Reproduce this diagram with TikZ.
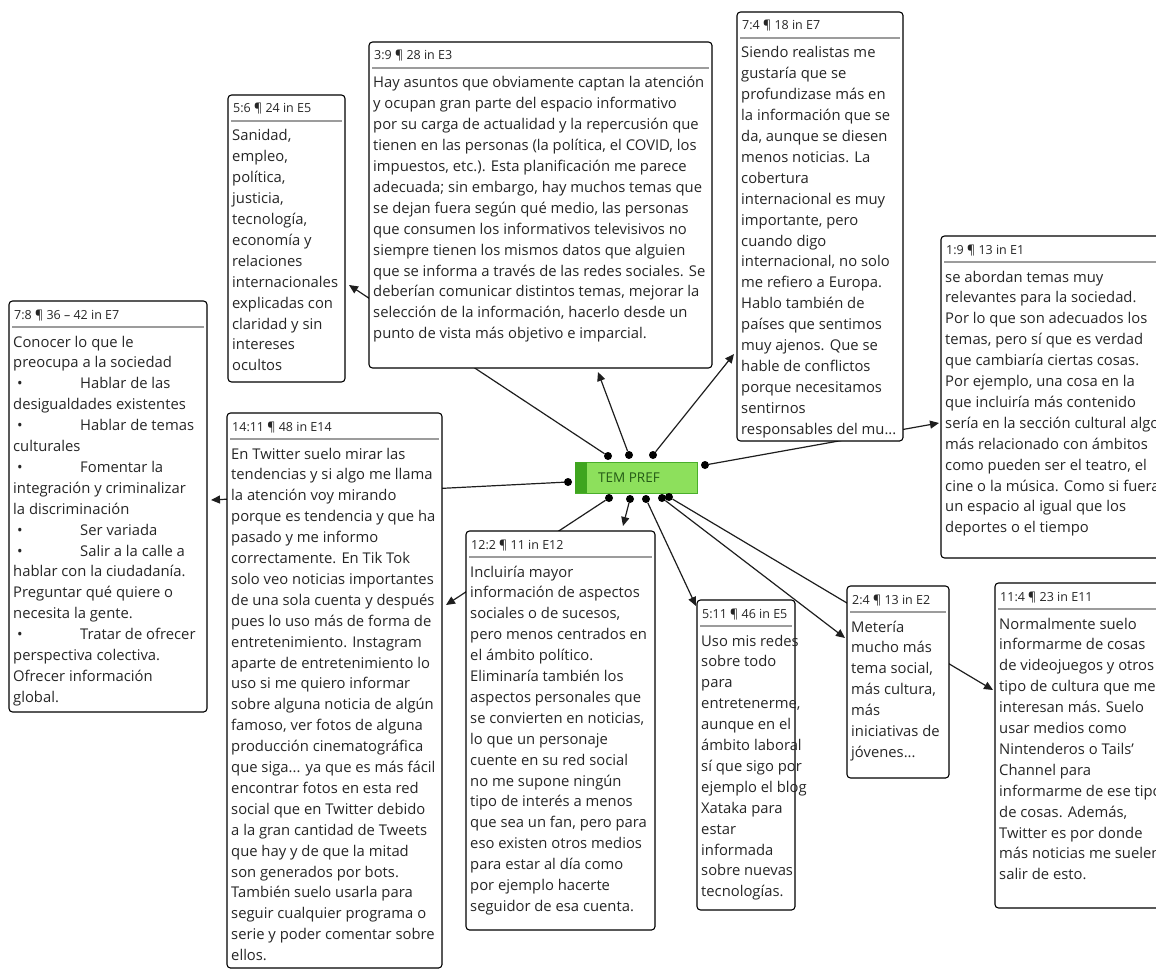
\documentclass[tikz,border=0pt]{standalone}
\usepackage{fontspec}
\setmainfont{Open Sans}
\usetikzlibrary{arrows.meta,calc}
\pgfdeclarelayer{bg}
\pgfsetlayers{bg,main}

\definecolor{ink}{HTML}{262626}
\definecolor{rulegray}{HTML}{9C9C9C}
\definecolor{linkc}{HTML}{1E1E1E}
\definecolor{temfill}{HTML}{8DE05C}
\definecolor{temdark}{HTML}{3FA51F}
\definecolor{temborder}{HTML}{4AAE2B}
\definecolor{temtext}{HTML}{245A16}

\tikzset{
  qframe/.style={draw=black, line width=1.1pt, rounded corners=3.5pt, fill=white, inner sep=0pt, outer sep=0pt},
  qhead/.style={inner sep=0pt, font=\fontsize{12.5}{14}\selectfont, text=ink},
  qbody/.style={inner sep=0pt, font=\fontsize{14.8}{20.9}\selectfont, text=ink},
  qrule/.style={draw=rulegray, line width=2pt},
  link/.style={draw=linkc, line width=1.2pt},
  tipped/.style={-{Triangle[length=9pt,width=8pt]}},
  dotnode/.style={circle, fill=black, inner sep=0pt, minimum size=8pt},
  codebox/.style={draw=temborder, fill=temfill, line width=0.8pt, inner sep=0pt, minimum width=122pt, minimum height=31pt},
}

% quotation box: name, left, top, right, bottom, header, body lines
\newcommand\quotebox[7]{%
  \node[qframe, anchor=north west, minimum width={(#4)-(#2)}, minimum height={(#5)-(#3)}] (#1) at (#2,#3) {};
  \node[qhead, anchor=base west] (#1-head) at ($(#1.north west)+(5,18)$) {#6};
  \draw[qrule] ($(#1.north west)+(3,26)$) -- ($(#1.north east)+(-3,26)$);
  \node[qbody, anchor=base west] (#1-text) at ($(#1.north west)+(4,46)$) {\parbox[t]{400pt}{\raggedright #7}};
}
\newcommand\bul[1]{\makebox[67pt][l]{\hspace{4pt}•}#1}

\begin{document}
\begin{tikzpicture}[x=1pt,y=-1pt]
\useasboundingbox (0,0) rectangle (1156,971);

% central code
\node[codebox] (tem) at (636.5,477.5) {};
\fill[temdark] (tem.north west) rectangle ($(tem.south west)+(12,0)$);
\node[inner sep=0pt, text=temtext, font=\fontsize{13.5}{15}\selectfont] (tem-label) at (629,477.5) {TEM PREF};

% link start points around the code
\node[dotnode] (dA) at (608,456) {};
\node[dotnode] (dB) at (629,455) {};
\node[dotnode] (dC) at (653,455) {};
\node[dotnode] (dR) at (705,465) {};
\node[dotnode] (dL) at (568,482) {};
\node[dotnode] (dD) at (609,498) {};
\node[dotnode] (dE) at (630,499) {};
\node[dotnode] (dF) at (646,499) {};
\node[dotnode] (dG) at (662,498) {};
\node[dotnode] (dH) at (669,497) {};

% quotations
\quotebox{q56}{228}{95}{345}{382}{5:6 ¶ 24 in E5}{%
Sanidad,\\ empleo,\\ política,\\ justicia,\\ tecnología,\\ economía y\\ relaciones\\ internacionales\\ explicadas con\\ claridad y sin\\ intereses\\ ocultos}

\quotebox{q39}{369}{42}{712}{368}{3:9 ¶ 28 in E3}{%
Hay asuntos que obviamente captan la atención\\
y ocupan gran parte del espacio informativo\\
por su carga de actualidad y la repercusión que\\
tienen en las personas (la política, el COVID, los\\
impuestos, etc.). Esta planificación me parece\\
adecuada; sin embargo, hay muchos temas que\\
se dejan fuera según qué medio, las personas\\
que consumen los informativos televisivos no\\
siempre tienen los mismos datos que alguien\\
que se informa a través de las redes sociales. Se\\
deberían comunicar distintos temas, mejorar la\\
selección de la información, hacerlo desde un\\
punto de vista más objetivo e imparcial.}

\quotebox{q74}{737}{12}{903}{441}{7:4 ¶ 18 in E7}{%
Siendo realistas me\\ gustaría que se\\ profundizase más en\\ la información que se\\ da, aunque se diesen\\ menos noticias. La\\ cobertura\\ internacional es muy\\ importante, pero\\ cuando digo\\ internacional, no solo\\ me refiero a Europa.\\ Hablo también de\\ países que sentimos\\ muy ajenos. Que se\\ hable de conflictos\\ porque necesitamos\\ sentirnos\\ responsables del mu...}

\quotebox{q19}{941}{236}{1175}{558}{1:9 ¶ 13 in E1}{%
se abordan temas muy\\ relevantes para la sociedad.\\ Por lo que son adecuados los\\ temas, pero sí que es verdad\\ que cambiaría ciertas cosas.\\ Por ejemplo, una cosa en la\\ que incluiría más contenido\\ sería en la sección cultural algo\\ más relacionado con ámbitos\\ como pueden ser el teatro, el\\ cine o la música. Como si fuera\\ un espacio al igual que los\\ deportes o el tiempo}

\quotebox{q78}{9}{301}{207}{712}{7:8 ¶ 36 – 42 in E7}{%
Conocer lo que le\\ preocupa a la sociedad\\ \bul{Hablar de las}\\ desigualdades existentes\\ \bul{Hablar de temas}\\ culturales\\ \bul{Fomentar la}\\ integración y criminalizar\\ la discriminación\\ \bul{Ser variada}\\ \bul{Salir a la calle a}\\ hablar con la ciudadanía.\\ Preguntar qué quiere o\\ necesita la gente.\\ \bul{Tratar de ofrecer}\\ perspectiva colectiva.\\ Ofrecer información\\ global.}

\quotebox{q1411}{227}{413}{442}{968}{14:11 ¶ 48 in E14}{%
En Twitter suelo mirar las\\ tendencias y si algo me llama\\ la atención voy mirando\\ porque es tendencia y que ha\\ pasado y me informo\\ correctamente. En Tik Tok\\ solo veo noticias importantes\\ de una sola cuenta y después\\ pues lo uso más de forma de\\ entretenimiento. Instagram\\ aparte de entretenimiento lo\\ uso si me quiero informar\\ sobre alguna noticia de algún\\ famoso, ver fotos de alguna\\ producción cinematográfica\\ que siga... ya que es más fácil\\ encontrar fotos en esta red\\ social que en Twitter debido\\ a la gran cantidad de Tweets\\ que hay y de que la mitad\\ son generados por bots.\\ También suelo usarla para\\ seguir cualquier programa o\\ serie y poder comentar sobre\\ ellos.}

\quotebox{q122}{466}{531}{655}{930}{12:2 ¶ 11 in E12}{%
Incluiría mayor\\ información de aspectos\\ sociales o de sucesos,\\ pero menos centrados en\\ el ámbito político.\\ Eliminaría también los\\ aspectos personales que\\ se convierten en noticias,\\ lo que un personaje\\ cuente en su red social\\ no me supone ningún\\ tipo de interés a menos\\ que sea un fan, pero para\\ eso existen otros medios\\ para estar al día como\\ por ejemplo hacerte\\ seguidor de esa cuenta.}

\quotebox{q511}{697}{600}{795}{910}{5:11 ¶ 46 in E5}{%
Uso mis redes\\ sobre todo\\ para\\ entretenerme,\\ aunque en el\\ ámbito laboral\\ sí que sigo por\\ ejemplo el blog\\ Xataka para\\ estar\\ informada\\ sobre nuevas\\ tecnologías.}

\quotebox{q24}{847}{586}{949}{778}{2:4 ¶ 13 in E2}{%
Metería\\ mucho más\\ tema social,\\ más cultura,\\ más\\ iniciativas de\\ jóvenes...}

\quotebox{q114}{995}{583}{1175}{908}{11:4 ¶ 23 in E11}{%
Normalmente suelo\\ informarme de cosas\\ de videojuegos y otros\\ tipo de cultura que me\\ interesan más. Suelo\\ usar medios como\\ Nintenderos o Tails'\\ Channel para\\ informarme de ese tipo\\ de cosas. Además,\\ Twitter es por donde\\ más noticias me suelen\\ salir de esto.}

% link end points at the quotations
\coordinate (t56)   at ($(q56.north east)+(4,190)$);
\coordinate (t39)   at ($(q39.south west)+(229,4)$);
\coordinate (t74)   at ($(q74.north west)+(-3,342)$);
\coordinate (t19)   at ($(q19.north west)+(-2,187)$);
\coordinate (t78)   at ($(q78.north east)+(4,199)$);
\coordinate (t1411) at ($(q1411.north east)+(4,192)$);
\coordinate (t122)  at ($(q122.north west)+(157,-5)$);
\coordinate (t511)  at ($(q511.north west)+(-1,6)$);
\coordinate (t24)   at ($(q24.north west)+(-2,52)$);
\coordinate (t114)  at ($(q114.north west)+(-2,107)$);

\begin{pgfonlayer}{bg}
  \draw[link,tipped] (dA) -- (t56);
  \draw[link,tipped] (dB) -- (t39);
  \draw[link,tipped] (dC) -- (t74);
  \draw[link,tipped] (dR) -- (t19);
  \draw[link,tipped] (dL) -- (t78);
  \draw[link,tipped] (dD) -- (t1411);
  \draw[link,tipped] (dE) -- (t122);
  \draw[link,tipped] (dF) -- (t511);
  \draw[link,tipped] (dG) -- (t24);
  \draw[link,tipped] (dH) -- (t114);
\end{pgfonlayer}
\end{tikzpicture}
\end{document}
